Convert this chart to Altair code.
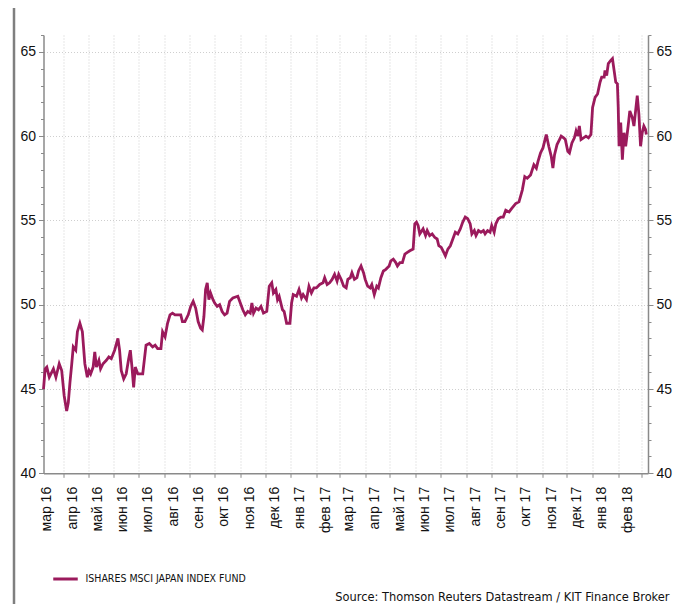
import altair as alt
import pandas as pd

SERIES = "ISHARES MSCI JAPAN INDEX FUND"
SOURCE = "Source: Thomson Reuters Datastream / KIT Finance Broker"
LINE_COLOR = "#9b1a5c"

DATES = [
    "2016-03-08", "2016-03-10", "2016-03-12", "2016-03-15", "2016-03-17", "2016-03-20", "2016-03-23",
    "2016-03-27", "2016-03-30", "2016-04-02", "2016-04-05", "2016-04-07", "2016-04-09", "2016-04-11",
    "2016-04-13", "2016-04-16", "2016-04-18", "2016-04-21", "2016-04-24", "2016-04-27", "2016-04-30",
    "2016-05-02", "2016-05-04", "2016-05-07", "2016-05-09", "2016-05-11", "2016-05-14", "2016-05-16",
    "2016-05-19", "2016-05-23", "2016-05-26", "2016-05-29", "2016-06-02", "2016-06-06", "2016-06-08",
    "2016-06-10", "2016-06-13", "2016-06-16", "2016-06-19", "2016-06-21", "2016-06-23", "2016-06-25",
    "2016-06-27", "2016-06-30", "2016-07-06", "2016-07-10", "2016-07-14", "2016-07-18", "2016-07-21",
    "2016-07-24", "2016-07-28", "2016-07-30", "2016-08-02", "2016-08-05", "2016-08-08", "2016-08-11",
    "2016-08-14", "2016-08-17", "2016-08-21", "2016-08-23", "2016-08-26", "2016-08-30", "2016-09-02",
    "2016-09-05", "2016-09-08", "2016-09-11", "2016-09-14", "2016-09-16", "2016-09-18", "2016-09-20",
    "2016-09-22", "2016-09-24", "2016-09-26", "2016-09-29", "2016-10-01", "2016-10-04", "2016-10-07",
    "2016-10-10", "2016-10-13", "2016-10-16", "2016-10-19", "2016-10-23", "2016-10-29", "2016-11-01",
    "2016-11-04", "2016-11-07", "2016-11-10", "2016-11-13", "2016-11-15", "2016-11-17", "2016-11-20",
    "2016-11-23", "2016-11-26", "2016-11-29", "2016-12-03", "2016-12-06", "2016-12-09", "2016-12-11",
    "2016-12-14", "2016-12-16", "2016-12-18", "2016-12-22", "2016-12-24", "2016-12-27", "2016-12-31",
    "2017-01-02", "2017-01-04", "2017-01-08", "2017-01-11", "2017-01-14", "2017-01-16", "2017-01-20",
    "2017-01-23", "2017-01-26", "2017-01-29", "2017-02-01", "2017-02-05", "2017-02-09", "2017-02-11",
    "2017-02-14", "2017-02-17", "2017-02-20", "2017-02-23", "2017-02-26", "2017-02-28", "2017-03-03",
    "2017-03-06", "2017-03-09", "2017-03-11", "2017-03-14", "2017-03-16", "2017-03-19", "2017-03-22",
    "2017-03-24", "2017-03-27", "2017-03-30", "2017-04-01", "2017-04-04", "2017-04-07", "2017-04-09",
    "2017-04-12", "2017-04-15", "2017-04-17", "2017-04-20", "2017-04-23", "2017-04-26", "2017-04-30",
    "2017-05-02", "2017-05-05", "2017-05-08", "2017-05-10", "2017-05-13", "2017-05-16", "2017-05-19",
    "2017-05-22", "2017-05-25", "2017-05-29", "2017-05-31", "2017-06-02", "2017-06-04", "2017-06-06",
    "2017-06-10", "2017-06-13", "2017-06-15", "2017-06-18", "2017-06-21", "2017-06-24", "2017-06-27",
    "2017-06-29", "2017-07-02", "2017-07-05", "2017-07-07", "2017-07-10", "2017-07-13", "2017-07-16",
    "2017-07-19", "2017-07-22", "2017-07-25", "2017-07-28", "2017-07-31", "2017-08-03", "2017-08-06",
    "2017-08-08", "2017-08-11", "2017-08-13", "2017-08-16", "2017-08-19", "2017-08-22", "2017-08-24",
    "2017-08-27", "2017-08-30", "2017-09-01", "2017-09-04", "2017-09-06", "2017-09-09", "2017-09-12",
    "2017-09-15", "2017-09-18", "2017-09-22", "2017-09-25", "2017-09-30", "2017-10-04", "2017-10-08",
    "2017-10-11", "2017-10-14", "2017-10-18", "2017-10-22", "2017-10-25", "2017-10-27", "2017-10-30",
    "2017-11-02", "2017-11-05", "2017-11-06", "2017-11-09", "2017-11-12", "2017-11-14", "2017-11-16",
    "2017-11-19", "2017-11-22", "2017-11-24", "2017-11-27", "2017-11-29", "2017-12-02", "2017-12-04",
    "2017-12-07", "2017-12-10", "2017-12-12", "2017-12-14", "2017-12-16", "2017-12-18", "2017-12-21",
    "2017-12-24", "2017-12-27", "2017-12-30", "2018-01-01", "2018-01-04", "2018-01-07", "2018-01-10",
    "2018-01-12", "2018-01-15", "2018-01-16", "2018-01-18", "2018-01-20", "2018-01-23", "2018-01-25",
    "2018-01-27", "2018-01-29", "2018-01-31", "2018-02-01", "2018-02-02", "2018-02-04", "2018-02-06",
    "2018-02-08", "2018-02-10", "2018-02-13", "2018-02-15", "2018-02-18", "2018-02-20", "2018-02-22",
    "2018-02-24", "2018-02-26", "2018-02-28", "2018-03-02", "2018-03-04", "2018-03-06", "2018-03-07",
]

VALUES = [
    45.0, 46.2, 46.3, 45.7, 45.9, 46.2, 45.7,
    46.5, 46.1, 44.6, 43.7, 44.2, 45.4, 46.4,
    47.5, 47.3, 48.4, 48.9, 48.4, 46.5, 45.7,
    46.1, 45.9, 46.3, 47.2, 46.3, 46.7, 46.2,
    46.5, 46.7, 46.9, 46.8, 47.3, 48.0, 47.3,
    46.1, 45.6, 45.9, 46.8, 47.3, 46.3, 45.1,
    46.3, 45.9, 45.9, 47.6, 47.7, 47.5, 47.6,
    47.4, 47.4, 48.4, 48.1, 48.9, 49.4, 49.5,
    49.4, 49.4, 49.4, 49.0, 49.0, 49.4, 49.9,
    50.2, 49.8, 49.0, 48.6, 48.5, 49.3, 50.9,
    51.3, 50.3, 50.7, 50.3, 50.1, 49.9, 50.0,
    49.6, 49.4, 49.5, 50.2, 50.4, 50.5, 50.1,
    49.7, 49.4, 49.6, 49.5, 50.1, 49.5, 49.8,
    49.7, 49.9, 49.5, 49.6, 51.1, 51.3, 50.7,
    50.9, 50.3, 50.5, 49.7, 49.6, 48.9, 48.9,
    50.1, 50.6, 50.5, 50.9, 50.4, 50.6, 50.3,
    51.1, 50.7, 51.0, 51.0, 51.2, 51.3, 51.6,
    51.2, 51.3, 51.5, 51.8, 51.4, 51.8, 51.5,
    51.1, 51.0, 51.5, 51.6, 51.9, 51.5, 51.6,
    52.0, 52.3, 51.9, 51.5, 51.1, 51.0, 51.2,
    50.6, 51.1, 51.0, 51.6, 52.0, 52.1, 52.3,
    52.6, 52.7, 52.5, 52.3, 52.5, 52.5, 53.0,
    53.1, 53.2, 53.3, 54.8, 54.9, 54.7, 54.2,
    54.5, 54.1, 54.4, 54.1, 54.2, 54.0, 53.9,
    53.5, 53.4, 53.1, 52.9, 53.3, 53.5, 53.9,
    54.3, 54.2, 54.5, 54.9, 55.2, 55.1, 54.8,
    54.2, 54.4, 54.1, 54.4, 54.3, 54.4, 54.2,
    54.4, 54.3, 54.7, 54.3, 54.8, 55.1, 55.2,
    55.2, 55.6, 55.5, 55.7, 56.0, 56.1, 56.8,
    57.6, 57.5, 57.7, 58.3, 58.1, 58.5, 59.0,
    59.3, 59.9, 60.1, 59.4, 58.8, 58.1, 58.9,
    59.5, 59.8, 60.0, 59.9, 59.8, 59.1, 59.0,
    59.6, 59.9, 60.3, 60.0, 60.6, 59.8, 59.9,
    60.0, 59.9, 60.1, 61.7, 62.3, 62.5, 63.2,
    63.5, 63.5, 63.9, 63.6, 64.3, 64.5, 64.6,
    63.9, 63.2, 63.1, 61.7, 59.4, 60.8, 58.6,
    60.2, 59.4, 60.6, 61.5, 61.1, 60.6, 61.5,
    62.4, 61.3, 59.4, 60.2, 60.6, 60.4, 60.1,
]

RU_MONTHS = ["янв", "фев", "мар", "апр", "май", "июн", "июл", "авг", "сен", "окт", "ноя", "дек"]
GRID_MONTHS = [(2016, m) for m in range(4, 13)] + [(2017, m) for m in range(1, 13)] + [(2018, m) for m in range(1, 4)]
LABEL_MONTHS = [(2016, m) for m in range(3, 13)] + [(2017, m) for m in range(1, 13)] + [(2018, m) for m in range(1, 3)]
Y_MAJOR = [40, 45, 50, 55, 60, 65]
Y_MINOR = list(range(40, 67))
X_START = (2016, 3, 8)
X_END = (2018, 3, 9)

W, H = 604.5, 438.3
AXIS_GRAY = "#8a8a8a"
GRID_GRAY = "#cfcfcf"
FONT = "Liberation Sans"
NARROW = "DejaVu Sans Condensed"

df = pd.DataFrame({"date": pd.to_datetime(DATES), "value": VALUES, "series": SERIES})

x_scale = alt.Scale(
    domain=[alt.DateTime(year=X_START[0], month=X_START[1], date=X_START[2]),
            alt.DateTime(year=X_END[0], month=X_END[1], date=X_END[2])],
    nice=False,
)
y_scale = alt.Scale(domain=[40, 66], nice=False, zero=False)

label_expr = (
    "[" + ",".join("'" + m + "'" for m in RU_MONTHS) + "][month(datum.value)]"
    " + ' ' + timeFormat(datum.value, '%y')"
)

base = alt.Chart(df)

main = base.mark_line(strokeWidth=2.8, interpolate="linear").encode(
    x=alt.X("date:T", scale=x_scale, axis=alt.Axis(
        orient="bottom", values=[alt.DateTime(year=y, month=m, date=1) for y, m in GRID_MONTHS],
        labels=False, grid=True, gridColor=GRID_GRAY, gridDash=[1, 2], gridWidth=1,
        ticks=True, tickSize=4, tickColor=AXIS_GRAY, domain=True, domainColor=AXIS_GRAY,
        domainWidth=1.5, title=None)),
    y=alt.Y("value:Q", scale=y_scale, axis=alt.Axis(
        orient="left", values=Y_MAJOR, grid=True, gridColor=GRID_GRAY, gridDash=[1, 2],
        gridWidth=1, tickSize=5, tickColor=AXIS_GRAY, domainColor=AXIS_GRAY, domainWidth=1.5,
        labelPadding=3, title=None)),
    color=alt.Color("series:N", scale=alt.Scale(domain=[SERIES], range=[LINE_COLOR]),
                    legend=alt.Legend(orient="none", legendX=8, legendY=530, title=None,
                                      symbolType="stroke", symbolSize=600, symbolStrokeWidth=3,
                                      labelFont=NARROW, labelFontSize=10.5, labelColor="#111",
                                      labelOffset=6, labelLimit=600, padding=0)),
)

labels_left_minor = base.mark_line(opacity=0).encode(
    x=alt.X("date:T", scale=x_scale, axis=alt.Axis(
        orient="bottom", values=[alt.DateTime(year=y, month=m, date=12) for y, m in LABEL_MONTHS],
        labelExpr=label_expr, labelAngle=270, labelPadding=13, ticks=False, tickSize=0,
        grid=False, domain=False, title=None)),
    y=alt.Y("value:Q", scale=y_scale, axis=alt.Axis(
        orient="left", values=Y_MINOR, labels=False, grid=False, tickSize=3,
        tickColor=AXIS_GRAY, domain=False, title=None)),
)

right_major = base.mark_line(opacity=0).encode(
    x=alt.X("date:T", scale=x_scale, axis=None),
    y=alt.Y("value:Q", scale=y_scale, axis=alt.Axis(
        orient="right", values=Y_MAJOR, grid=False, tickSize=5, tickColor=AXIS_GRAY,
        domainColor=AXIS_GRAY, domainWidth=1.5, labelPadding=3, title=None)),
)

right_minor = base.mark_line(opacity=0).encode(
    x=alt.X("date:T", scale=x_scale, axis=None),
    y=alt.Y("value:Q", scale=y_scale, axis=alt.Axis(
        orient="right", values=Y_MINOR, labels=False, grid=False, tickSize=3,
        tickColor=AXIS_GRAY, domain=False, title=None)),
)

source = alt.Chart(pd.DataFrame({"t": [SOURCE]})).mark_text(
    align="right", baseline="middle", font=NARROW, fontSize=12.7, color="#111"
).encode(text="t:N", x=alt.value(626), y=alt.value(562))

frame = alt.Chart(pd.DataFrame({"k": [0]})).mark_rule(color="#7f7f7f", strokeWidth=2.5).encode(
    x=alt.value(-29.5), y=alt.value(-27), y2=alt.value(569)
)

chart = alt.layer(frame, main, labels_left_minor, right_major, right_minor, source).resolve_axis(
    x="independent", y="independent"
).resolve_scale(x="shared", y="shared").properties(
    width=W, height=H,
    autosize=alt.AutoSizeParams(type="none"),
    padding={"left": 35.5, "top": 27, "right": 25, "bottom": 130.7},
).configure_view(stroke=None).configure_axis(
    labelFont=FONT, labelFontSize=14, labelColor="#111"
)

chart.save("out.html", embed_options={"renderer": "svg", "actions": False})
